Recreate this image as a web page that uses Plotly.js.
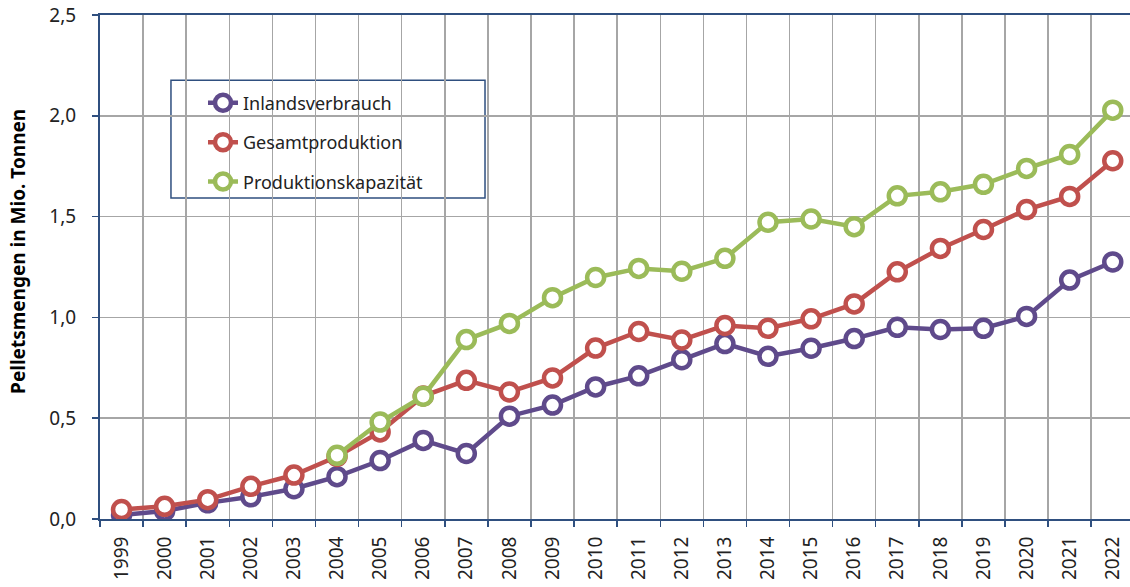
<!DOCTYPE html>
<html>
<head>
<meta charset="utf-8">
<script src="https://cdn.plot.ly/plotly-3.0.1.min.js"></script>
<style>html,body{margin:0;padding:0;background:#fff;}#chart{width:1130px;height:587px;}</style>
</head>
<body>
<div id="chart"></div>
<script>
const years = ["1999","2000","2001","2002","2003","2004","2005","2006","2007","2008","2009","2010","2011","2012","2013","2014","2015","2016","2017","2018","2019","2020","2021","2022"];
const inlandsverbrauch = [0.02,0.04,0.08,0.11,0.15,0.21,0.29,0.39,0.325,0.51,0.565,0.655,0.71,0.79,0.87,0.807,0.847,0.895,0.951,0.94,0.946,1.005,1.185,1.275];
const gesamtproduktion = [0.047,0.063,0.096,0.162,0.218,0.31,0.432,0.61,0.688,0.63,0.7,0.848,0.93,0.888,0.96,0.946,0.993,1.067,1.226,1.342,1.436,1.535,1.60,1.777];
const produktionskapazitaet = [null,null,null,null,null,0.316,0.481,0.609,0.89,0.97,1.098,1.198,1.243,1.229,1.293,1.472,1.488,1.45,1.603,1.623,1.66,1.739,1.808,2.028];
const seriesNames = ["Inlandsverbrauch","Gesamtproduktion","Produktionskapazität"];
const seriesColors = ["#5f4a8b","#c0504d","#9bbb59"];
const seriesData = [inlandsverbrauch, gesamtproduktion, produktionskapazitaet];
const yTitle = 'Pelletsmengen in Mio. Tonnen';

const traces = seriesData.map((d,i)=>({
  x: years, y: d, name: seriesNames[i], type: 'scatter', mode: 'lines+markers',
  legendgroup: 'g'+i,
  line: {color: seriesColors[i], width: 4.5},
  marker: {symbol: 'circle', size: 17, color: '#ffffff', line: {color: seriesColors[i], width: 4.5}},
  connectgaps: false
}));

const axisBlue = '#2f4f7f';
const layout = {
  width: 1130, height: 587,
  margin: {l: 100, r: 0, t: 15, b: 68},
  paper_bgcolor: '#ffffff', plot_bgcolor: '#ffffff',
  separators: ', ',
  font: {family: 'Noto Sans, sans-serif', size: 18, color: '#222'},
  showlegend: true,
  legend: {
    x: 0.1, y: 0.862, xanchor: 'left', yanchor: 'top',
    bgcolor: 'rgba(255,255,255,0)', borderwidth: 0,
    font: {family: 'Noto Sans, sans-serif', size: 18, color: '#222'},
    traceorder: 'grouped', tracegroupgap: 13, itemwidth: 30
  },
  shapes: [{
    type: 'rect', xref: 'paper', yref: 'paper',
    x0: 0.0689, x1: 0.3738, y0: 0.6369, y1: 0.8706,
    line: {color: '#2f4f7f', width: 1.5}, fillcolor: '#ffffff', layer: 'below'
  }],
  annotations: [{
    text: '<b>' + yTitle + '</b>', textangle: -90, showarrow: false,
    xref: 'paper', yref: 'paper', x: -0.0796, y: 0.53, xanchor: 'center', yanchor: 'middle',
    font: {family: 'Noto Sans, sans-serif', size: 19, color: '#000'}
  }],
  xaxis: {
    type: 'category', range: [-0.5, 23.4], tickson: 'boundaries',
    tickangle: -90, ticks: 'outside', ticklen: 6, tickcolor: axisBlue, tickwidth: 1.5,
    ticklabelstandoff: 8,
    showline: true, linecolor: axisBlue, linewidth: 2, mirror: true,
    showgrid: true, gridcolor: '#a6a6a6', gridwidth: 1.5,
    tickfont: {size: 19, color: '#222'}, fixedrange: true
  },
  yaxis: {
    range: [0, 2.5], dtick: 0.5, tickformat: '.1f',
    ticks: 'outside', ticklen: 6, tickcolor: axisBlue, tickwidth: 1.5,
    ticklabelstandoff: 12,
    showline: true, linecolor: axisBlue, linewidth: 2, mirror: true,
    showgrid: true, gridcolor: '#a6a6a6', gridwidth: 1.5, zeroline: false,
    tickfont: {size: 19, color: '#222'}
  }
};
Plotly.newPlot('chart', traces, layout, {displayModeBar: false, staticPlot: true});
</script>
</body>
</html>
